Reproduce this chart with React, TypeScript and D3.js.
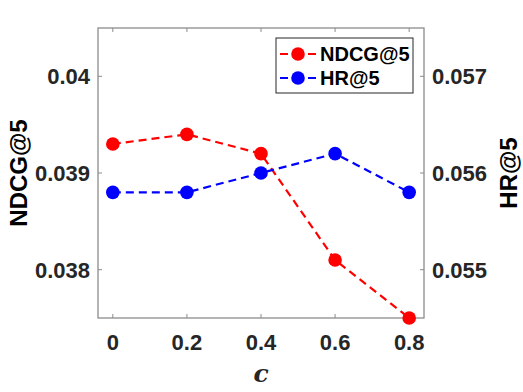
import React, { useEffect, useRef } from 'react';
import * as d3 from 'd3';

// values
const cValues = [0, 0.2, 0.4, 0.6, 0.8];
const ndcg = [0.0393, 0.0394, 0.0392, 0.0381, 0.0375];
const hr = [0.0558, 0.0558, 0.056, 0.0562, 0.0558];
const xTicks = [0, 0.2, 0.4, 0.6, 0.8];
const leftTicks = [0.038, 0.039, 0.04];
const rightTicks = [0.055, 0.056, 0.057];

const W = 523;
const H = 392;
const margin = { top: 28, right: 99, bottom: 74, left: 98 };

export default function App() {
	const ref = useRef<SVGSVGElement>(null);

	useEffect(() => {
		const svg = d3.select(ref.current);
		svg.selectAll('*').remove();

		const pw = W - margin.left - margin.right;
		const ph = H - margin.top - margin.bottom;
		const x = d3.scaleLinear().domain([-0.04, 0.84]).range([0, pw]);
		const yL = d3.scaleLinear().domain([0.0375, 0.0405]).range([ph, 0]);
		const yR = d3.scaleLinear().domain([0.0545, 0.0575]).range([ph, 0]);

		const g = svg.append('g').attr('transform', `translate(${margin.left},${margin.top})`);
		const font = "'Liberation Sans', Arial, sans-serif";
		const axisColor = '#8c8c8c';
		const tickFont = 22;

		// axes box
		g.append('rect').attr('width', pw).attr('height', ph)
			.attr('fill', 'none').attr('stroke', axisColor).attr('stroke-width', 1.3);

		const tl = 4;
		xTicks.forEach(t => {
			g.append('line').attr('x1', x(t)).attr('x2', x(t)).attr('y1', ph).attr('y2', ph - tl).attr('stroke', axisColor);
			g.append('line').attr('x1', x(t)).attr('x2', x(t)).attr('y1', 0).attr('y2', tl).attr('stroke', axisColor);
			g.append('text').text(String(t)).attr('x', x(t)).attr('y', ph + 32)
				.attr('text-anchor', 'middle').attr('font-family', font).attr('font-weight', 'bold')
				.attr('font-size', tickFont).attr('fill', '#262626');
		});
		leftTicks.forEach(t => {
			g.append('line').attr('x1', 0).attr('x2', tl).attr('y1', yL(t)).attr('y2', yL(t)).attr('stroke', axisColor);
			g.append('text').text(String(t)).attr('x', -8).attr('y', yL(t)).attr('dy', '0.36em')
				.attr('text-anchor', 'end').attr('font-family', font).attr('font-weight', 'bold')
				.attr('font-size', tickFont).attr('fill', '#262626');
		});
		rightTicks.forEach(t => {
			g.append('line').attr('x1', pw).attr('x2', pw - tl).attr('y1', yR(t)).attr('y2', yR(t)).attr('stroke', axisColor);
			g.append('text').text(String(t)).attr('x', pw + 8).attr('y', yR(t)).attr('dy', '0.36em')
				.attr('text-anchor', 'start').attr('font-family', font).attr('font-weight', 'bold')
				.attr('font-size', tickFont).attr('fill', '#262626');
		});

		// axis titles
		svg.append('text').text('NDCG@5')
			.attr('transform', `translate(27,${margin.top + ph / 2}) rotate(-90)`)
			.attr('text-anchor', 'middle').attr('font-family', font).attr('font-weight', 'bold')
			.attr('font-size', 24).attr('fill', '#000');
		svg.append('text').text('HR@5')
			.attr('transform', `translate(517,${margin.top + ph / 2}) rotate(-90)`)
			.attr('text-anchor', 'middle').attr('font-family', font).attr('font-weight', 'bold')
			.attr('font-size', 24).attr('fill', '#000');
		svg.append('text').text('c')
			.attr('x', margin.left + x(0.4)).attr('y', 382)
			.attr('text-anchor', 'middle').attr('font-family', "'DejaVu Serif', serif")
			.attr('font-weight', 'bold').attr('font-style', 'italic')
			.attr('font-size', 25).attr('fill', '#262626');

		const series = [
			{ name: 'NDCG@5', values: ndcg, y: yL, color: '#ff0000' },
			{ name: 'HR@5', values: hr, y: yR, color: '#0000ff' },
		];

		const plot = g.append('g');
		series.forEach(s => {
			const pts = cValues.map((c, i) => [c, s.values[i]] as [number, number]);
			const line = d3.line<[number, number]>().x(d => x(d[0])).y(d => s.y(d[1]));
			plot.append('path').attr('d', line(pts)).attr('fill', 'none')
				.attr('stroke', s.color).attr('stroke-width', 2.2).attr('stroke-dasharray', '8,5');
			plot.selectAll(null).data(pts).enter().append('circle')
				.attr('cx', d => x(d[0])).attr('cy', d => s.y(d[1]))
				.attr('r', 6.8).attr('fill', s.color);
		});

		// legend
		const lg = svg.append('g').attr('transform', 'translate(276,38)');
		lg.append('rect').attr('width', 137).attr('height', 55)
			.attr('fill', '#fff').attr('stroke', '#262626').attr('stroke-width', 1);
		series.forEach((s, i) => {
			const ly = 16 + i * 24;
			lg.append('line').attr('x1', 4).attr('x2', 42).attr('y1', ly).attr('y2', ly)
				.attr('stroke', s.color).attr('stroke-width', 2.2).attr('stroke-dasharray', '8,6');
			lg.append('circle').attr('cx', 22).attr('cy', ly).attr('r', 6.8).attr('fill', s.color);
			lg.append('text').text(s.name).attr('x', 44).attr('y', ly).attr('dy', '0.36em')
				.attr('font-family', font).attr('font-weight', 'bold').attr('font-size', 20).attr('fill', '#000');
		});
	}, []);

	return (
		<svg ref={ref} width={W} height={H} style={{ position: 'absolute', left: 0, top: 0, background: '#fff' }} />
	);
}
